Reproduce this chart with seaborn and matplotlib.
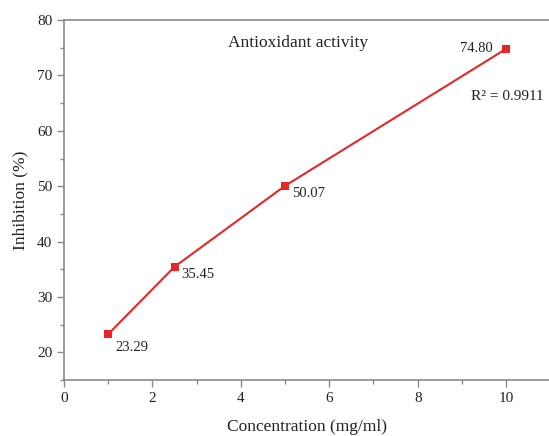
import numpy as np
import pandas as pd
import matplotlib.pyplot as plt
import seaborn as sns
from matplotlib.ticker import MultipleLocator

# datos
concentracion = [1, 2.5, 5, 10]
inhibicion = [23.29, 35.45, 50.07, 74.80]
etiquetas = ['23.29', '35.45', '50.07', '74.80']

df = pd.DataFrame({'conc': concentracion, 'inh': inhibicion})

sns.set_style('ticks')
plt.rcParams['font.family'] = ['Liberation Serif', 'DejaVu Serif']

fig = plt.figure(figsize=(5.49, 4.36), dpi=100)
ax = fig.add_axes([0.1166, 0.1284, 0.8834, 0.8256])

sns.lineplot(data=df, x='conc', y='inh', color='#e8262a', marker='s',
             markersize=6, markeredgewidth=0, linewidth=1.5, ax=ax)

# etiquetas de los puntos
desp = [(5, -12), (5, -8), (5, -8), (-33, -2)]
for x, y, t, d in zip(concentracion, inhibicion, etiquetas, desp):
    ax.annotate(t, xy=(x, y), xytext=d, textcoords='offset points',
                fontsize=10.5, color='#222222')

ax.text(0.338, 0.925, 'Antioxidant activity', transform=ax.transAxes,
        fontsize=12.5, color='#222222')
ax.text(0.839, 0.778, 'R² = 0.9911', transform=ax.transAxes,
        fontsize=11, color='#222222')

ax.set_xlim(0, 10.97)
ax.set_ylim(15, 80)
ax.xaxis.set_major_locator(MultipleLocator(2))
ax.xaxis.set_minor_locator(MultipleLocator(1))
ax.yaxis.set_major_locator(MultipleLocator(10))
ax.yaxis.set_minor_locator(MultipleLocator(5))
ax.set_yticks([20, 30, 40, 50, 60, 70, 80])

for s in ['left', 'bottom', 'top']:
    ax.spines[s].set_color('#8a8a8a')
    ax.spines[s].set_linewidth(1.2)
ax.spines['right'].set_visible(False)

ax.tick_params(which='both', direction='out', color='#8a8a8a', labelsize=11,
               labelcolor='#222222')
ax.tick_params(which='major', length=5, width=1)
ax.tick_params(which='minor', length=3, width=1)

ax.set_xlabel('Concentration (mg/ml)', fontsize=12.5, color='#222222', labelpad=10)
ax.set_ylabel('Inhibition (%)', fontsize=12.5, color='#222222', labelpad=6)

fig.savefig('out.png', dpi=100)
